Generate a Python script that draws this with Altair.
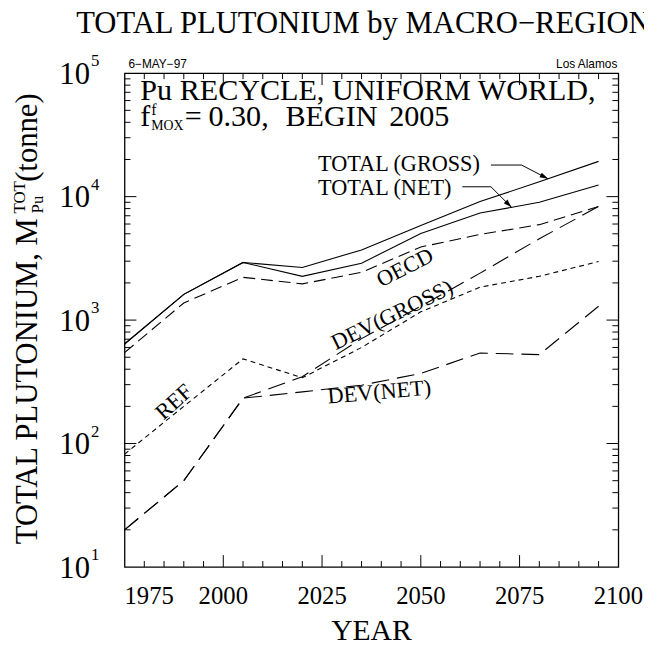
import altair as alt
import pandas as pd

# ---------------- data ----------------
years = [1975, 1990, 2005, 2020, 2035, 2050, 2065, 2080, 2095]
total_gross = [640, 1615, 2930, 2670, 3700, 5830, 9120, 13200, 19300]
total_net = [640, 1615, 2930, 2260, 2890, 5030, 7360, 9010, 12400]
oecd = [545, 1376, 2220, 1965, 2436, 3910, 4940, 5930, 8320]
dev_gross = [20, 50, 233, 348, 708, 1295, 2400, 4560, 8320]
dev_net = [20, 50, 233, 262, 297, 370, 541, 525, 1294]
ref = [82, 200, 485, 341, 600, 1166, 1848, 2263, 2980]

x_label_years = [1975, 2000, 2025, 2050, 2075, 2100]
x_major_ticks = [2000, 2025, 2050, 2075]
x_minor_ticks = [y for y in range(1980, 2100, 5) if y % 25 != 0]
y_decades = [10, 100, 1000, 10000, 100000]
y_exponents = ["1", "2", "3", "4", "5"]
y_major_ticks = [100, 1000, 10000]
y_minor_ticks = [m * d for d in [10, 100, 1000, 10000] for m in range(2, 10)]

# arrows (data space): tail, elbow, tip
arrow_gross_year = [2067.75, 2075.5, 2082.25]
arrow_gross_val = [18030, 18030, 13930]
arrow_net_year = [2060.5, 2067.75, 2073.0]
arrow_net_val = [12020, 12020, 8170]

SERIF = "Liberation Serif"
SANS = "Liberation Sans"

series = [
    ("TOTAL (GROSS)", total_gross, None),
    ("TOTAL (NET)", total_net, None),
    ("OECD", oecd, [12, 6]),
    ("DEV(GROSS)", dev_gross, [18, 8]),
    ("DEV(NET)", dev_net, [18, 8]),
    ("REF", ref, [5, 4]),
]

xs = alt.Scale(domain=[1975, 2100], nice=False, zero=False)
ys = alt.Scale(type="log", domain=[10, 100000], nice=False)
X = alt.X("year:Q", scale=xs, axis=None)
Y = alt.Y("value:Q", scale=ys, axis=None)

layers = []
for name, vals, dash in series:
    df = pd.DataFrame({"year": years, "value": vals})
    kw = dict(color="black", strokeWidth=1.1)
    if dash:
        kw["strokeDash"] = dash
    layers.append(alt.Chart(df).mark_line(**kw).encode(x=X, y=Y))

# arrows
for ay, av, ang in [(arrow_gross_year, arrow_gross_val, 27), (arrow_net_year, arrow_net_val, 45)]:
    df = pd.DataFrame({"year": ay, "value": av})
    layers.append(alt.Chart(df).mark_line(color="black", strokeWidth=1).encode(x=X, y=Y))
    tip = pd.DataFrame({"year": [ay[-1]], "value": [av[-1]]})
    layers.append(
        alt.Chart(tip)
        .mark_point(shape="M0,0L-1,-0.3L-1,0.3Z", filled=True, color="black", size=300, angle=ang, opacity=1)
        .encode(x=X, y=Y)
    )

# ticks (inward, all four sides)
def xticks(vals, y0, y1):
    df = pd.DataFrame({"year": vals})
    return alt.Chart(df).mark_rule(color="black", strokeWidth=1).encode(
        x=X, y=alt.value(y0), y2=alt.value(y1))

def yticks(vals, x0, x1):
    df = pd.DataFrame({"value": vals})
    return alt.Chart(df).mark_rule(color="black", strokeWidth=1).encode(
        y=Y, x=alt.value(x0), x2=alt.value(x1))

layers += [
    xticks(x_major_ticks, 500, 488), xticks(x_minor_ticks, 500, 494),
    xticks(x_major_ticks, 0, 12), xticks(x_minor_ticks, 0, 6),
    yticks(y_major_ticks, 0, 12), yticks(y_minor_ticks, 0, 6),
    yticks(y_major_ticks, 500, 488), yticks(y_minor_ticks, 500, 494),
]

# x tick labels
xl = pd.DataFrame({"year": x_label_years, "label": [str(v) for v in x_label_years]})
layers.append(
    alt.Chart(xl).transform_filter("datum.year == 1975")
    .mark_text(font=SERIF, fontSize=25, align="left", baseline="top", color="black")
    .encode(x=X, y=alt.value(517), text="label:N"))
layers.append(
    alt.Chart(xl).transform_filter("datum.year != 1975")
    .mark_text(font=SERIF, fontSize=25, align="center", baseline="top", color="black")
    .encode(x=X, y=alt.value(517), text="label:N"))

# y tick labels 10^n
yl = pd.DataFrame({"value": y_decades, "exp": y_exponents})
layers.append(
    alt.Chart(yl).mark_text(text="10", font=SERIF, fontSize=31, align="right", baseline="alphabetic",
                            dy=11, color="black")
    .encode(y=Y, x=alt.value(-35)))
layers.append(
    alt.Chart(yl).mark_text(font=SERIF, fontSize=17, align="left", baseline="alphabetic",
                            dy=-7, color="black")
    .encode(y=Y, x=alt.value(-34), text="exp:N"))

one = pd.DataFrame({"a": [0]})

def txt(s, x, y, size, angle=0, align="left", baseline="middle", font=SERIF):
    return alt.Chart(one).mark_text(
        text=s, fontSize=size, angle=angle % 360, align=align, baseline=baseline,
        font=font, color="black").encode(x=alt.value(x), y=alt.value(y))

layers += [
    txt("TOTAL PLUTONIUM by MACRO\u2212REGION", -49, -50, 31),
    txt("6\u2212MAY\u221297", 4, -9, 12, font=SANS),
    txt("Los Alamos", 499, -9, 12, align="right", font=SANS),
    txt("Pu RECYCLE, UNIFORM WORLD,", 16, 27, 30.5, baseline="alphabetic"),
    txt("f", 16, 53, 30.5, baseline="alphabetic"),
    txt("f", 27, 42, 16, baseline="alphabetic"),
    txt("MOX", 27, 58, 14, baseline="alphabetic"),
    txt("=", 61, 53, 30.5, baseline="alphabetic"),
    txt("0.30,", 85, 53, 30.5, baseline="alphabetic"),
    txt("BEGIN", 163, 53, 30.5, baseline="alphabetic"),
    txt("2005", 268, 53, 30.5, baseline="alphabetic"),
    # curve labels
    txt("TOTAL (GROSS)", 196, 92, 22.5),
    txt("TOTAL (NET)", 196, 116, 22.5),
    txt("OECD", 284, 197, 22.5, angle=-27, align="center"),
    txt("DEV(GROSS)", 271, 245, 22.5, angle=-26, align="center"),
    txt("REF", 50, 333, 22.5, angle=-42, align="center"),
    txt("DEV(NET)", 258, 323, 22.5, angle=-5, align="center"),
    # axis titles
    txt("YEAR", 250, 574, 30, align="center", baseline="alphabetic"),
    txt("TOTAL PLUTONIUM, M", -89, 477, 31, angle=270, baseline="alphabetic"),
    txt("TOT", -101, 142, 17, angle=270, baseline="alphabetic"),
    txt("Pu", -83, 142, 17, angle=270, baseline="alphabetic"),
    txt("(tonne)", -89, 110, 31, angle=270, baseline="alphabetic"),
]

chart = alt.layer(*layers).properties(
    width=500, height=500,
    autosize=alt.AutoSizeParams(type="none"),
    padding={"left": 118, "top": 62, "right": 26, "bottom": 75},
).configure_view(stroke="black", strokeWidth=1.3)

chart.save("out.html", embed_options={"renderer": "svg", "actions": False})
